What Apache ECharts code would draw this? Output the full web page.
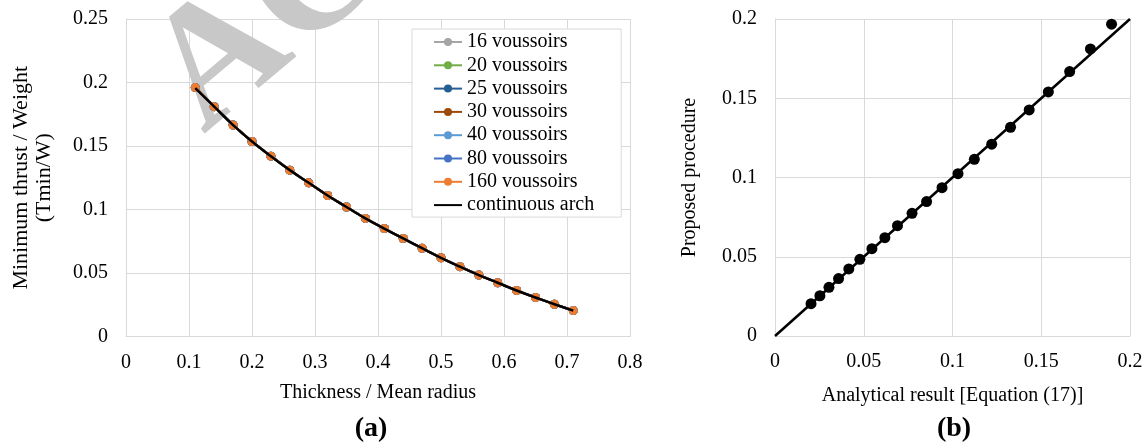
<!DOCTYPE html>
<html>
<head>
<meta charset="utf-8">
<script src="https://cdn.jsdelivr.net/npm/echarts@6/dist/echarts.min.js"></script>
<style>
  html, body { margin: 0; padding: 0; background: #fff; }
  #chart { width: 1148px; height: 442px; }
</style>
</head>
<body>
<div id="chart"></div>
<script>
// (a) minimum thrust against thickness
const thickness = [0.11, 0.14, 0.17, 0.20, 0.23, 0.26, 0.29, 0.32, 0.35, 0.38, 0.41,
                   0.44, 0.47, 0.50, 0.53, 0.56, 0.59, 0.62, 0.65, 0.68, 0.71];
const voussoirThrust = [0.196, 0.181, 0.1665, 0.1535, 0.142, 0.131, 0.121, 0.111, 0.102, 0.093, 0.085,
                        0.0772, 0.0695, 0.062, 0.055, 0.0484, 0.0423, 0.0362, 0.0307, 0.0254, 0.0204];
const continuousThrust = [0.1955, 0.181, 0.1665, 0.1535, 0.142, 0.131, 0.121, 0.111, 0.102, 0.093, 0.085,
                          0.0772, 0.0695, 0.062, 0.055, 0.0484, 0.0423, 0.0362, 0.0307, 0.0254, 0.0204];
const voussoirNames = ['16 voussoirs', '20 voussoirs', '25 voussoirs', '30 voussoirs',
                       '40 voussoirs', '80 voussoirs', '160 voussoirs'];
const voussoirColors = ['#a5a5a5', '#70ad47', '#255e91', '#9e480e', '#5b9bd5', '#4472c4', '#ed7d31'];

// (b) proposed procedure against analytical result
const analytical = [0.0203, 0.0253, 0.0304, 0.0358, 0.0416, 0.0478, 0.0546, 0.0619, 0.069, 0.0772, 0.0854,
                    0.0941, 0.1031, 0.1123, 0.1221, 0.1327, 0.1432, 0.154, 0.166, 0.1777, 0.1896];
const proposed = [0.0204, 0.0254, 0.0307, 0.0362, 0.0423, 0.0484, 0.0551, 0.062, 0.0696, 0.0774, 0.0848,
                  0.0936, 0.1024, 0.1115, 0.121, 0.1317, 0.1426, 0.154, 0.1668, 0.1811, 0.1967];
const identityX = [0, 0.2];

const FONT = "'Liberation Serif', 'Times New Roman', serif";
const GRID_COLOR = '#d9d9d9';

const chart = echarts.init(document.getElementById('chart'), null, { renderer: 'canvas' });

function valueAxis(gridIndex, max, interval, name, nameGap, labelMargin, extra) {
    return Object.assign({
        type: 'value',
        gridIndex: gridIndex,
        min: 0,
        max: max,
        interval: interval,
        name: name,
        nameLocation: 'middle',
        nameGap: nameGap,
        nameTextStyle: { fontFamily: FONT, fontSize: 20, color: '#000' },
        axisLine: { show: true, lineStyle: { color: GRID_COLOR, width: 1 } },
        axisTick: { show: false },
        axisLabel: { fontFamily: FONT, fontSize: 20, color: '#000', margin: labelMargin },
        splitLine: { show: true, lineStyle: { color: GRID_COLOR, width: 1 } }
    }, extra || {});
}

const series = voussoirNames.map((name, i) => ({
    name: name,
    type: 'line',
    xAxisIndex: 0,
    yAxisIndex: 0,
    data: thickness.map((t, k) => [t, voussoirThrust[k]]),
    symbol: 'circle',
    symbolSize: 9,
    itemStyle: { color: voussoirColors[i] },
    lineStyle: { color: voussoirColors[i], width: 2.25 },
    z: 2 + i * 0.01
}));

series.push({
    name: 'continuous arch',
    type: 'line',
    xAxisIndex: 0,
    yAxisIndex: 0,
    data: thickness.map((t, k) => [t, continuousThrust[k]]),
    smooth: true,
    symbol: 'none',
    itemStyle: { color: '#000' },
    lineStyle: { color: '#000', width: 2.5 },
    z: 3
});

series.push({
    name: 'identity',
    type: 'line',
    xAxisIndex: 1,
    yAxisIndex: 1,
    data: identityX.map(v => [v, v]),
    symbol: 'none',
    lineStyle: { color: '#000', width: 2.5 },
    z: 2
});

series.push({
    name: 'proposed',
    type: 'scatter',
    xAxisIndex: 1,
    yAxisIndex: 1,
    data: analytical.map((a, k) => [a, proposed[k]]),
    symbol: 'circle',
    symbolSize: 11,
    itemStyle: { color: '#000', opacity: 1 },
    z: 3
});

const legendData = voussoirNames.map(n => ({ name: n }));
legendData.push({ name: 'continuous arch', itemStyle: { opacity: 0 } });

const option = {
    animation: false,
    backgroundColor: '#fff',
    textStyle: { fontFamily: FONT },
    grid: [
        { left: 126, right: 518, top: 19, bottom: 105.5 },
        { left: 775, right: 18, top: 19, bottom: 106 }
    ],
    xAxis: [
        valueAxis(0, 0.8, 0.1, 'Thickness / Mean radius', 46, 16),
        valueAxis(1, 0.2, 0.05, 'Analytical result [Equation (17)]', 50, 16)
    ],
    yAxis: [
        valueAxis(0, 0.25, 0.05, 'Minimum thrust / Weight\n(Tmin/W)', 70, 18,
            { nameTextStyle: { fontFamily: FONT, fontSize: 22, color: '#000', lineHeight: 23 } }),
        valueAxis(1, 0.2, 0.05, 'Proposed procedure', 75, 18)
    ],
    legend: {
        data: legendData,
        orient: 'vertical',
        left: 412,
        top: 29,
        padding: [3, 27, 2, 21],
        itemWidth: 28,
        itemHeight: 10,
        itemGap: 3.3,
        backgroundColor: '#fff',
        borderColor: GRID_COLOR,
        borderWidth: 1,
        textStyle: { fontFamily: FONT, fontSize: 20, color: '#000', lineHeight: 20 }
    },
    graphic: [
        {
            // watermark over the grid lines, under the data
            type: 'text',
            x: 230,
            y: 166,
            rotation: 0.70,
            z: 1,
            silent: true,
            style: {
                text: 'ACCEPTED',
                font: 'bold 170px ' + FONT,
                fill: '#c8c8c8',
                textVerticalAlign: 'bottom'
            }
        },
        {
            type: 'text',
            x: 371,
            y: 429,
            style: { text: '(a)', font: 'bold 28px ' + FONT, fill: '#000', textAlign: 'center', textVerticalAlign: 'middle' }
        },
        {
            type: 'text',
            x: 954,
            y: 429,
            style: { text: '(b)', font: 'bold 28px ' + FONT, fill: '#000', textAlign: 'center', textVerticalAlign: 'middle' }
        }
    ],
    series: series
};

chart.setOption(option);
</script>
</body>
</html>
